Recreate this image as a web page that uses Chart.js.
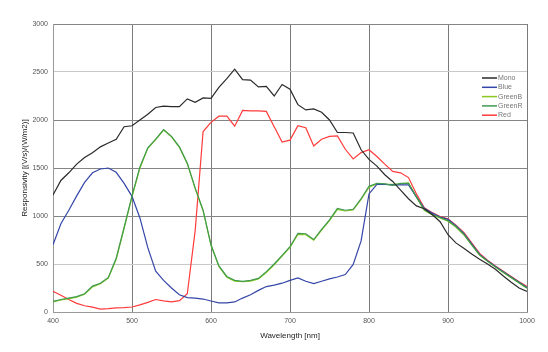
<!DOCTYPE html>
<html>
<head>
<meta charset="utf-8">
<script src="https://cdn.jsdelivr.net/npm/chart.js@4.4.1/dist/chart.umd.min.js"></script>
<style>
  body { margin: 0; background: #fff; }
  #wrap { width: 548px; height: 352px; }
</style>
</head>
<body>
<div id="wrap"><canvas id="grafica"></canvas></div>
<script>
// longitudes de onda, cada 10 nm
const wavelengths = [400,410,420,430,440,450,460,470,480,490,500,510,520,530,540,550,560,570,580,590,
  600,610,620,630,640,650,660,670,680,690,700,710,720,730,740,750,760,770,780,790,
  800,810,820,830,840,850,860,870,880,890,900,910,920,930,940,950,960,970,980,990,1000];

const mono = [1220,1370,1450,1540,1610,1660,1720,1760,1800,1930,1940,2000,2060,2130,2145,2140,2140,2220,2185,2230,
  2225,2340,2430,2530,2420,2415,2345,2350,2250,2370,2320,2160,2105,2115,2080,2000,1870,1870,1865,1690,
  1590,1520,1430,1360,1270,1180,1105,1075,1015,940,805,720,665,605,550,500,445,375,310,250,215];

const blue = [700,920,1060,1210,1350,1450,1490,1500,1455,1340,1205,980,670,425,330,250,180,150,145,135,
  115,95,95,105,145,180,225,265,280,300,330,355,320,295,320,345,365,390,495,740,
  1230,1330,1330,1325,1325,1325,1200,1080,1030,990,965,900,820,710,600,535,475,420,365,310,255];

const greenB = [105,125,140,155,185,262,295,352,550,870,1200,1500,1705,1795,1895,1825,1715,1545,1285,1055,
  695,475,362,322,315,322,345,412,492,582,672,808,805,748,852,952,1068,1052,1062,1172,
  1300,1335,1330,1330,1335,1345,1195,1060,1010,980,945,885,805,698,592,528,468,412,358,302,248];

const greenR = [110,130,145,160,190,270,300,360,560,880,1210,1510,1710,1800,1900,1830,1720,1550,1290,1060,
  700,480,370,330,320,330,350,420,500,590,680,820,815,755,860,960,1080,1060,1070,1180,
  1310,1340,1335,1320,1340,1340,1200,1065,1015,985,950,890,810,700,595,530,470,415,360,305,250];

const red = [215,175,130,90,65,50,30,35,42,45,52,75,100,130,115,105,118,190,850,1880,
  1975,2040,2040,1935,2100,2095,2095,2090,1930,1770,1790,1940,1920,1730,1800,1830,1835,1695,1595,1660,
  1690,1620,1540,1465,1450,1400,1230,1085,1035,995,970,905,830,720,610,540,480,425,370,315,265];

const xTicks = [400,500,600,700,800,900,1000];
const yTicks = [0,500,1000,1500,2000,2500,3000];

// order: menor = se dibuja encima
const series = [
  { label: 'Mono', data: mono, color: '#2a2a2a', order: 0 },
  { label: 'Blue', data: blue, color: '#3446a8', order: 2 },
  { label: 'GreenB', data: greenB, color: '#8cc81e', order: 3 },
  { label: 'GreenR', data: greenR, color: '#3f9a50', order: 1 },
  { label: 'Red', data: red, color: '#ff3b3b', order: 4 }
];

const FONT = "'Liberation Sans', Arial, sans-serif";

// leyenda dentro del área del gráfico
const leyendaInterna = {
  id: 'leyendaInterna',
  afterDatasetsDraw(chart) {
    const ctx = chart.ctx;
    ctx.save();
    ctx.font = '7px ' + FONT;
    ctx.textBaseline = 'middle';
    chart.data.datasets.forEach((ds, i) => {
      const y = 78 + i * 9.3;
      ctx.strokeStyle = ds.borderColor;
      ctx.lineWidth = 1.5;
      ctx.beginPath();
      ctx.moveTo(482, y);
      ctx.lineTo(497, y);
      ctx.stroke();
      ctx.fillStyle = '#777';
      ctx.fillText(ds.label, 498, y);
    });
    ctx.restore();
  }
};

const ctx = document.getElementById('grafica').getContext('2d');
new Chart(ctx, {
  type: 'line',
  data: {
    datasets: series.map(s => ({
      label: s.label,
      data: wavelengths.map((w, i) => ({ x: w, y: s.data[i] })),
      borderColor: s.color,
      backgroundColor: s.color,
      borderWidth: 1.2,
      pointRadius: 0,
      tension: 0,
      fill: false,
      order: s.order
    }))
  },
  options: {
    responsive: true,
    maintainAspectRatio: false,
    animation: false,
    layout: { padding: { top: 24, right: 21, left: 0, bottom: 0 } },
    plugins: {
      legend: { display: false },
      tooltip: { enabled: false }
    },
    scales: {
      x: {
        type: 'linear',
        min: 400,
        max: 1000,
        afterFit: s => { s.height = 40; },
        afterBuildTicks: s => { s.ticks = xTicks.map(v => ({ value: v })); },
        grid: { color: '#7a7a7a', lineWidth: 1, drawTicks: false },
        border: { color: '#999' },
        ticks: {
          font: { family: FONT, size: 7 }, color: '#555', padding: 5, maxRotation: 0,
          callback: v => String(v)
        },
        title: {
          display: true,
          text: 'Wavelength [nm]',
          font: { family: FONT, size: 8 },
          color: '#222',
          padding: { top: 0, bottom: 11 }
        }
      },
      y: {
        min: 0,
        max: 3000,
        afterFit: s => { s.width = 53; },
        afterBuildTicks: s => { s.ticks = yTicks.map(v => ({ value: v })); },
        grid: {
          color: c => (c.tick && (c.tick.value === 500 || c.tick.value === 2500)) ? '#c8c8c8' : '#858585',
          lineWidth: 1,
          drawTicks: false
        },
        border: { color: '#999' },
        ticks: {
          font: { family: FONT, size: 7 }, color: '#555', padding: 5,
          callback: v => String(v)
        },
        title: {
          display: true,
          text: 'Responsivity [(V/s)/(W/m2)]',
          font: { family: FONT, size: 8 },
          color: '#222',
          padding: { top: 20, bottom: 0 }
        }
      }
    }
  },
  plugins: [leyendaInterna]
});
</script>
</body>
</html>
